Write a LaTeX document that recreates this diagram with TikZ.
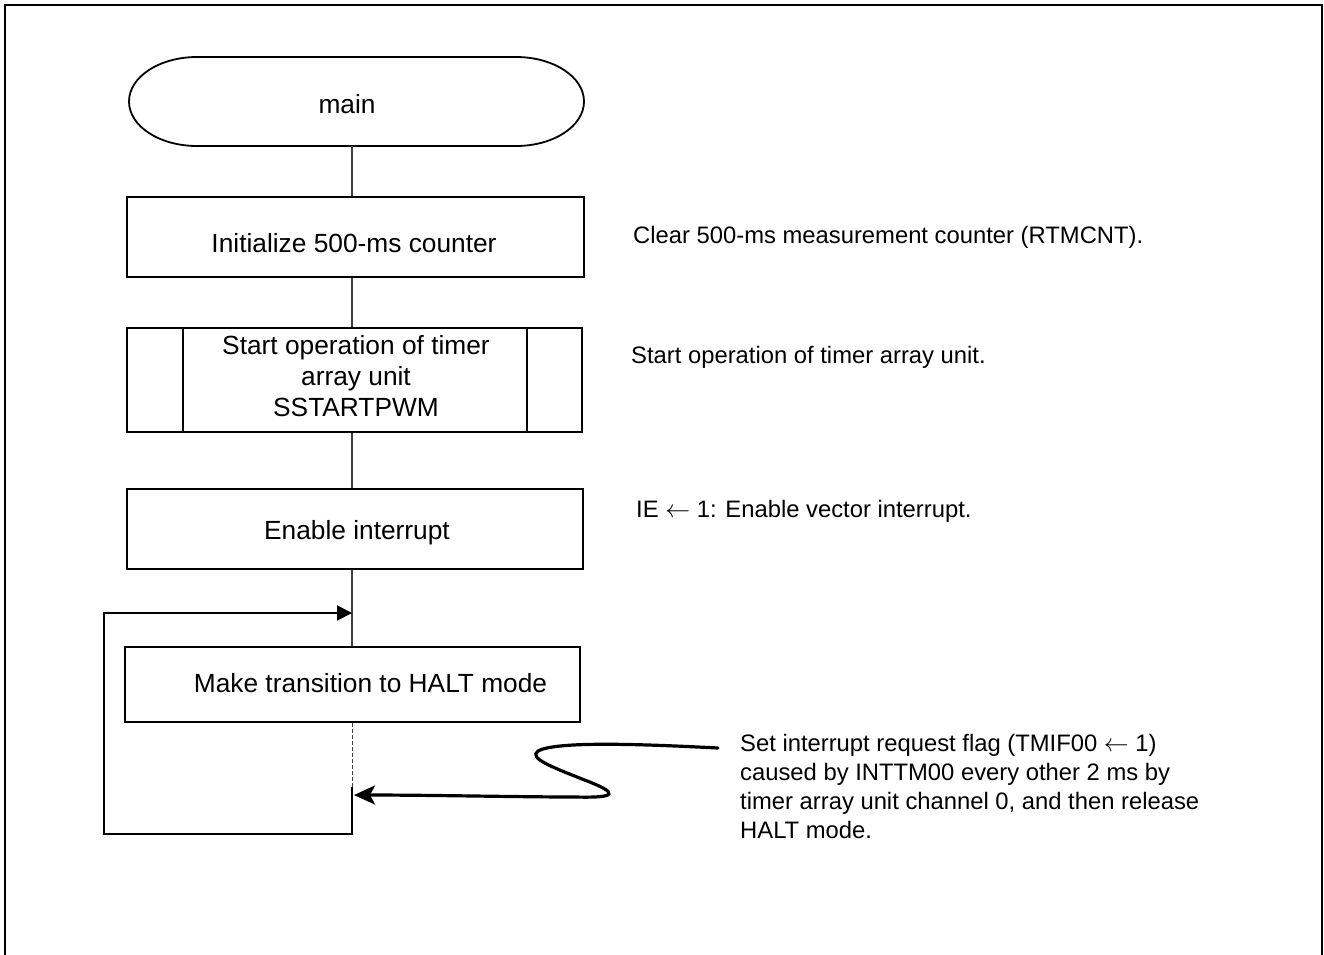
\documentclass[tikz,border=0pt]{standalone}
\usepackage{fontspec}
\setmainfont{Liberation Sans}
\usetikzlibrary{arrows.meta}
\begin{document}
\begin{tikzpicture}[x=1pt,y=-1pt,
  outline/.style={draw=black, line width=1.8pt},
  boxnode/.style={outline, inner sep=0pt, minimum width=#1, minimum height=80pt},
  boxtext/.style={anchor=base, inner sep=0pt, font=\fontsize{26.3pt}{31pt}\selectfont},
  note/.style={anchor=base west, inner sep=0pt, font=\fontsize{23.8pt}{29pt}\selectfont},
  conn/.style={draw=black!75, line width=1.1pt},
  loopline/.style={draw=black, line width=2pt},
]
\useasboundingbox (0,0) rectangle (1324,954);
% outer frame (open at the bottom)
\draw[line width=2pt] (5,960) -- (5,5) -- (1322,5) -- (1322,960);

% terminal "main"
\node[inner sep=0pt, minimum width=455pt, minimum height=89pt] (start) at (356.5,101.5) {};
\draw[outline] (197,57) -- (516,57)
  .. controls (553.6,57) and (584,76.9) .. (584,101.5)
  .. controls (584,126.1) and (553.6,146) .. (516,146)
  -- (197,146)
  .. controls (159.4,146) and (129,126.1) .. (129,101.5)
  .. controls (129,76.9) and (159.4,57) .. (197,57) -- cycle;
\node[boxtext] (tmain) at (347,113) {main};

% box 1
\node[boxnode=457pt] (b1) at (355.5,237) {};
\node[boxtext] (t1) at (354,252) {Initialize 500-ms counter};

% box 2 (predefined process)
\node[boxnode=455pt, minimum height=104pt] (b2) at (354.5,380) {};
\coordinate (b2l) at (183,328);
\coordinate (b2r) at (527,328);
\draw[outline] (b2l) -- (b2l |- b2.south);
\draw[outline] (b2r) -- (b2r |- b2.south);
\node[boxtext] (t2a) at (356,354) {Start operation of timer};
\node[boxtext] (t2b) at (356,385) {array unit};
\node[boxtext] (t2c) at (356,416) {SSTARTPWM};

% box 3
\node[boxnode=456pt] (b3) at (355,529) {};
\node[boxtext] (t3) at (357,539) {Enable interrupt};

% box 4
\node[boxnode=455pt, minimum height=75pt] (b4) at (352.5,684.5) {};
\node[boxtext] (t4) at (370.5,692) {Make transition to HALT mode};

% connectors
\coordinate (j) at (352,613);
\draw[conn] (j |- start.south) -- (j |- b1.north);
\draw[conn] (j |- b1.south) -- (j |- b2.north);
\draw[conn] (j |- b2.south) -- (j |- b3.north);
\draw[conn] (j |- b3.south) -- (j |- b4.north);

% loop
\coordinate (d1) at (352,787);
\coordinate (d2) at (352,834);
\coordinate (d3) at (104,834);
\coordinate (d4) at (104,613);
\draw[draw=black!75, line width=1pt, dash pattern=on 4pt off 2pt] (j |- b4.south) -- (d1);
\draw[loopline, -{Triangle[length=15pt, width=15pt]}] (d1) -- (d2) -- (d3) -- (d4) -- (j);

% interrupt S-curve arrow
\coordinate (s0) at (718,748);
\coordinate (s1) at (354,795);
\draw[line width=3.2pt, line cap=round, -{Stealth[length=21pt, width=19pt, inset=5pt]}]
  (s0) .. controls (640,744) and (556,741) .. (538,751)
  .. controls (528,758) and (552,767) .. (582,779)
  .. controls (622,794) and (616,798) .. (575,797)
  .. controls (520,797) and (430,795) .. (s1);

% annotations
\node[note] (n1) at (633,243) {Clear 500-ms measurement counter (RTMCNT).};
\node[note] (n2) at (631,363) {Start operation of timer array unit.};
\node[note] (n3) at (636,517) {IE $\leftarrow$ 1: Enable vector interrupt.};
\node[note] (n4a) at (740,751) {Set interrupt request flag (TMIF00 $\leftarrow$ 1)};
\node[note] (n4b) at (740,780) {caused by INTTM00 every other 2 ms by};
\node[note] (n4c) at (740,809) {timer array unit channel 0, and then release};
\node[note] (n4d) at (740,838) {HALT mode.};
\end{tikzpicture}
\end{document}
